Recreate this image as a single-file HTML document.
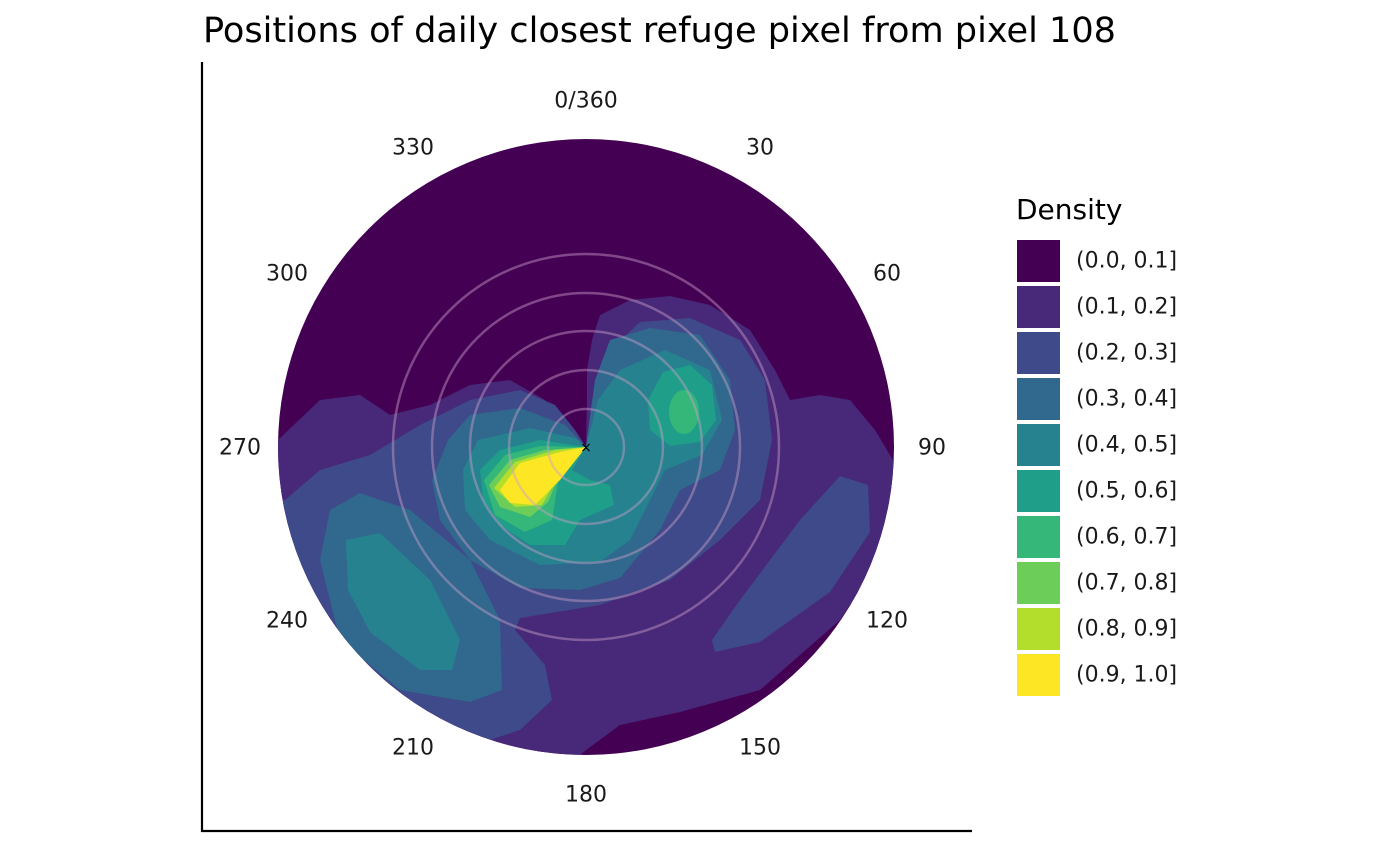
<!DOCTYPE html>
<html><head><meta charset="utf-8"><style>
html,body{margin:0;padding:0;background:#fff;}
svg{display:block;font-family:"DejaVu Sans","Liberation Sans",sans-serif;}
</style></head><body>
<svg width="1400" height="865" viewBox="0 0 1400 865" xmlns="http://www.w3.org/2000/svg">
<text x="203" y="42" font-size="35" fill="#000" textLength="913" lengthAdjust="spacingAndGlyphs">Positions of daily closest refuge pixel from pixel 108</text>
<line x1="202" y1="62" x2="202" y2="832" stroke="#000" stroke-width="2.2"/>
<line x1="201" y1="831" x2="972" y2="831" stroke="#000" stroke-width="2.2"/>
<defs><clipPath id="c"><circle cx="586" cy="447" r="308"/></clipPath></defs>
<g clip-path="url(#c)" stroke-linejoin="round">
<rect x="270" y="130" width="640" height="640" fill="#440154"/>
<polygon fill="#482878" points="250,440 278,440 320,400 360,395 390,415 430,405 470,385 510,380 545,400 570,425 586,447 587,400 587,370 592,340 600,315 630,300 670,296 710,305 750,330 775,370 790,400 820,395 850,400 875,430 893,460 920,460 920,520 893,520 880,560 840,620 760,690 680,712 620,725 578,756 250,790"/>
<polygon fill="#3E4A89" points="250,500 285,500 320,470 370,455 420,425 470,400 520,390 555,405 575,430 586,447 592,400 610,350 640,322 690,318 740,340 765,380 772,440 760,500 720,540 670,580 600,605 520,618 515,630 545,665 552,700 520,730 490,740 490,790 250,790"/>
<polygon fill="#3E4A89" points="715,652 760,642 830,592 870,532 868,485 840,476 800,520 740,600 712,640"/>
<polygon fill="#31688E" points="320,560 330,510 360,493 410,510 470,560 500,620 502,690 470,702 400,690 340,640"/>
<polygon fill="#31688E" points="432,480 448,440 470,415 520,408 565,425 586,447 595,380 610,340 650,328 700,335 730,380 735,430 720,470 680,490 660,530 620,578 580,590 520,588 470,560 440,520"/>
<polygon fill="#26828E" points="346,540 380,533 430,580 460,640 452,670 420,670 370,632 348,590"/>
<polygon fill="#26828E" points="463,470 478,440 530,428 575,438 586,447 598,400 620,370 665,350 710,370 722,420 702,455 665,470 650,500 630,540 600,562 540,565 490,540 465,510"/>
<polygon fill="#1F9E89" points="480,470 500,450 540,440 572,445 586,447 572,470 590,480 610,485 614,505 580,520 565,545 530,545 500,525 483,500"/>
<polygon fill="#1F9E89" points="648,400 663,372 690,365 712,385 716,420 700,442 670,446 650,430"/>
<polygon fill="#35B779" points="484,480 505,455 540,446 586,447 560,470 552,520 525,532 495,515"/>
<ellipse cx="684" cy="412" rx="15" ry="22" fill="#35B779"/>
<polygon fill="#6DCD59" points="489,485 510,460 545,450 586,447 565,462 548,502 530,517 500,507"/>
<polygon fill="#B4DE2C" points="494,488 515,462 555,450 586,447 562,470 542,505 515,507"/>
<polygon fill="#FDE725" points="500,490 520,463 560,452 586,447 560,480 535,505 510,503"/>
<g fill="none" stroke="#c9a0c8" stroke-opacity="0.45" stroke-width="2.5">
<circle cx="586" cy="447" r="38"/><circle cx="586" cy="447" r="77"/><circle cx="586" cy="447" r="116"/><circle cx="586" cy="447" r="154"/><circle cx="586" cy="447" r="193"/>
</g>
</g>
<text x="586" y="452" font-size="14" text-anchor="middle" fill="#000">×</text>
<g font-size="22" fill="#1a1a1a" text-anchor="middle" dominant-baseline="central">
<text x="586" y="101">0/360</text><text x="760" y="148">30</text><text x="887" y="274">60</text><text x="932" y="448">90</text><text x="887" y="621">120</text><text x="760" y="748">150</text><text x="586" y="795">180</text><text x="413" y="748">210</text><text x="287" y="621">240</text><text x="240" y="448">270</text><text x="287" y="274">300</text><text x="413" y="148">330</text>
</g>
<text x="1016" y="219" font-size="28" fill="#000">Density</text>
<g>
<rect x="1017" y="240" width="43" height="42" fill="#440154"/>
<rect x="1017" y="286" width="43" height="42" fill="#482878"/>
<rect x="1017" y="332" width="43" height="42" fill="#3E4A89"/>
<rect x="1017" y="378" width="43" height="42" fill="#31688E"/>
<rect x="1017" y="424" width="43" height="42" fill="#26828E"/>
<rect x="1017" y="470" width="43" height="42" fill="#1F9E89"/>
<rect x="1017" y="516" width="43" height="42" fill="#35B779"/>
<rect x="1017" y="562" width="43" height="42" fill="#6DCD59"/>
<rect x="1017" y="608" width="43" height="42" fill="#B4DE2C"/>
<rect x="1017" y="654" width="43" height="42" fill="#FDE725"/>
</g>
<g font-size="22" fill="#1a1a1a" dominant-baseline="central">
<text x="1076" y="261">(0.0, 0.1]</text><text x="1076" y="307">(0.1, 0.2]</text><text x="1076" y="353">(0.2, 0.3]</text><text x="1076" y="399">(0.3, 0.4]</text><text x="1076" y="445">(0.4, 0.5]</text><text x="1076" y="491">(0.5, 0.6]</text><text x="1076" y="537">(0.6, 0.7]</text><text x="1076" y="583">(0.7, 0.8]</text><text x="1076" y="629">(0.8, 0.9]</text><text x="1076" y="675">(0.9, 1.0]</text>
</g>
</svg>
</body></html>
